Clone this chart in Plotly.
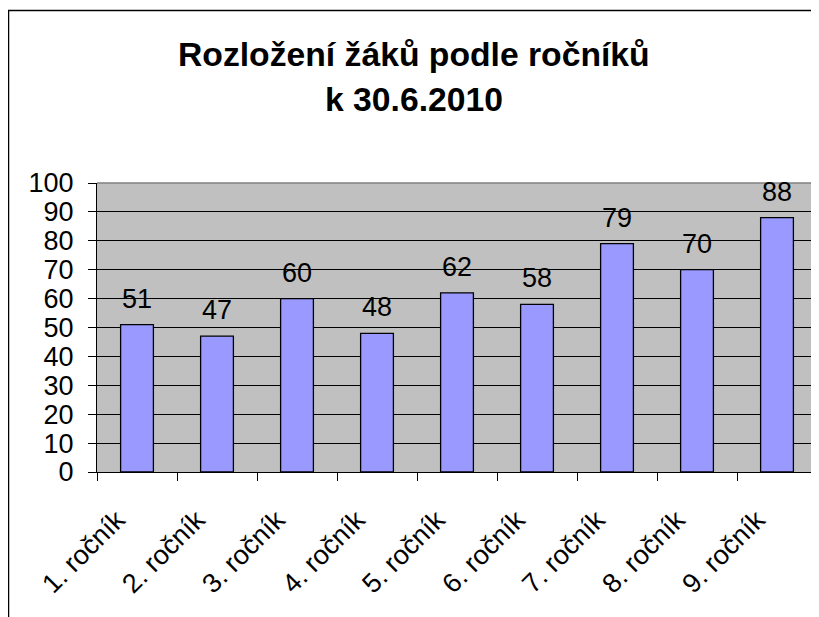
import plotly.graph_objects as go

categories = ["1. ročník", "2. ročník", "3. ročník", "4. ročník", "5. ročník",
              "6. ročník", "7. ročník", "8. ročník", "9. ročník"]
values = [51, 47, 60, 48, 62, 58, 79, 70, 88]
y_ticks = [0, 10, 20, 30, 40, 50, 60, 70, 80, 90, 100]
title_lines = ["Rozložení žáků podle ročníků", "k 30.6.2010"]

FONT = "Arial, Liberation Sans, sans-serif"
W, H = 819, 617
ML, MR, MT, MB = 89, 10, 175, 153
PW, PH = W - ML - MR, H - MT - MB


def px(xp):
    return (xp - ML) / PW


def py(yp):
    return (H - MB - yp) / PH


fig = go.Figure()
fig.add_trace(go.Bar(
    x=categories, y=values,
    marker=dict(color="#9999FF", line=dict(color="black", width=1.3)),
    width=0.41,
    hoverinfo="skip",
))

for c, v in zip(categories, values):
    fig.add_annotation(x=c, y=v, text=str(v), showarrow=False,
                       yanchor="bottom", yshift=9,
                       font=dict(family=FONT, size=27, color="black"))

# title lines as annotations
fig.add_annotation(xref="paper", yref="paper", x=px(405.5), y=py(67),
                   text="<b>" + title_lines[0] + "</b>", showarrow=False,
                   xanchor="center", yanchor="bottom",
                   font=dict(family=FONT, size=33.7, color="black"))
fig.add_annotation(xref="paper", yref="paper", x=px(405.5), y=py(111.5),
                   text="<b>" + title_lines[1] + "</b>", showarrow=False,
                   xanchor="center", yanchor="bottom",
                   font=dict(family=FONT, size=33.7, color="black"))

fig.update_layout(
    width=W, height=H,
    margin=dict(l=ML, r=MR, t=MT, b=MB, autoexpand=False),
    paper_bgcolor="white",
    plot_bgcolor="#C0C0C0",
    showlegend=False,
    font=dict(family=FONT, color="black"),
)

fig.update_xaxes(
    type="category",
    automargin=False,
    showgrid=False,
    ticks="outside", tickson="boundaries", ticklen=8, tickcolor="black",
    tickangle=-45,
    ticklabelstandoff=20, ticklabelshift=-20,
    tickfont=dict(family=FONT, size=27, color="black"),
    showline=True, linecolor="black", linewidth=1.3,
)
fig.update_yaxes(
    automargin=False,
    range=[0, 100],
    tickvals=y_ticks,
    showgrid=True, gridcolor="black", gridwidth=1,
    ticks="outside", ticklen=8, tickcolor="black",
    ticklabelstandoff=9,
    tickfont=dict(family=FONT, size=27, color="black"),
    showline=True, linecolor="black", linewidth=1.3,
    zeroline=False,
)

# plot area border (gray) on top and right
fig.add_shape(type="line", xref="paper", yref="paper", x0=0, x1=1, y0=1, y1=1,
              line=dict(color="#808080", width=1.5), layer="above")
fig.add_shape(type="line", xref="paper", yref="paper", x0=1, x1=1, y0=0, y1=1,
              line=dict(color="#808080", width=1.5), layer="above")
# outer chart border
fig.add_shape(type="rect", xref="paper", yref="paper",
              x0=px(0.5), x1=px(W - 0.5), y0=py(H - 0.5), y1=py(2.5),
              line=dict(color="black", width=1.5), layer="below")

fig.write_html("out.html")
